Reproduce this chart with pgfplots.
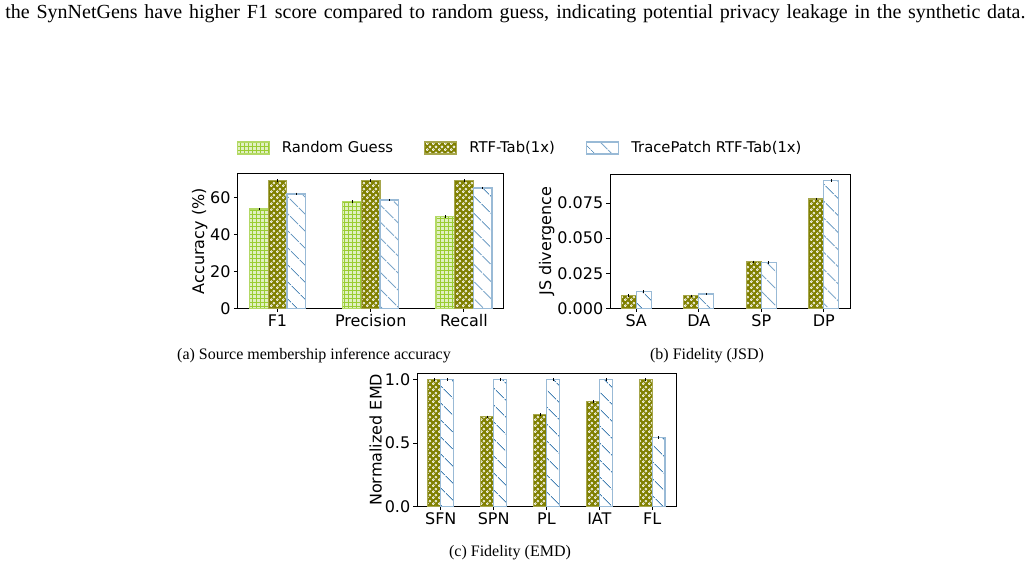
\documentclass[border=0pt]{standalone}
\usepackage{fontspec}
\setmainfont{Liberation Serif}
\newfontfamily\dejavu{DejaVu Sans}
\usepackage{pgfplots}
\pgfplotsset{compat=1.18}
\usetikzlibrary{patterns.meta}

\definecolor{yellowgreen}{HTML}{9ACD32}
\definecolor{olivec}{HTML}{808000}
\definecolor{steelblue}{HTML}{4682B4}

\newcommand\ticksfont{\dejavu\fontsize{8}{9.6}\selectfont}
\newcommand\legendfont{\dejavu\fontsize{7.4}{8.9}\selectfont}
\newcommand\capfont{\fontsize{8}{9.6}\selectfont}

% small white rings on olive, staggered
\tikzdeclarepattern{
  name=Rings,
  type=uncolored,
  bounding box={(0pt,0pt) and (3pt,3pt)},
  tile size={(3pt,3pt)},
  code={
    \pgfsetlinewidth{0.35pt}
    \pgfpathcircle{\pgfqpoint{0.75pt}{0.75pt}}{0.6pt}
    \pgfpathcircle{\pgfqpoint{2.25pt}{2.25pt}}{0.6pt}
    \pgfusepath{stroke}
  }
}

\pgfplotsset{
  barfig/.style={
    scale only axis,
    ybar=0pt,
    ymin=0,
    axis line style={line width=0.5pt},
    tick style={line width=0.5pt, black},
    tick align=outside,
    tick pos=left,
    major tick length=1.8pt,
    tick label style={font=\ticksfont},
    xticklabel style={inner sep=1.2pt},
    yticklabel style={inner sep=1.4pt},
    label style={font=\ticksfont},
    ylabel style={yshift=-3.5pt},
    /pgf/number format/assume math mode=true,
    legend image code/.code={\draw[##1] (0pt,-3pt) rectangle (16pt,3pt);},
    error bars/y dir=plus,
    error bars/y explicit,
    error bars/error mark options={black, line width=0.3pt, mark size=0.6pt},
    error bars/error bar style={black, line width=0.3pt},
  },
  rg/.style={draw=yellowgreen!75, line width=0.6pt, fill=yellowgreen!30,
    postaction={pattern={Hatch[angle=0, distance=2pt, line width=0.35pt]}, pattern color=yellowgreen}},
  rtf/.style={draw=olivec!70, line width=0.6pt, fill=olivec,
    postaction={pattern=Rings, pattern color=white}},
  tp/.style={draw=steelblue!55, line width=0.7pt, fill=white,
    postaction={pattern={Lines[angle=-45, distance=6.4pt, line width=0.5pt]}, pattern color=steelblue}},
}

\begin{document}
\begin{tikzpicture}
\path[use as bounding box] (0,0) rectangle (515pt,285pt);

\node[anchor=base west, inner sep=0pt, font=\fontsize{10}{12}\selectfont] at (2.5pt,276pt)
  {\makebox[510pt][s]{the SynNetGens have higher F1 score compared to random guess, indicating potential privacy leakage in the synthetic data.}};

% (a) membership inference
\begin{axis}[barfig,
  at={(118.7pt,130.9pt)}, anchor=south west,
  width=133.3pt, height=67.1pt,
  bar width=0.2,
  xmin=-0.43, xmax=2.43, ymax=72.7,
  xtick={0,1,2}, xticklabels={F1,Precision,Recall},
  ytick={0,20,40,60},
  ylabel={Accuracy (\%)},
  legend columns=3,
  legend style={draw=none, fill=none, at={(1.064,1.194)}, anchor=center, font=\legendfont,
    /tikz/every odd column/.append style={column sep=4pt},
    /tikz/every even column/.append style={column sep=13.5pt}},
]
\addplot[rg] coordinates {(0,53.7) +- (0,0) (1,57.7) +- (0,0) (2,49.7) +- (0,0)};
\addplot[rtf] coordinates {(0,69.2) +- (0,0) (1,69.2) +- (0,0) (2,69.2) +- (0,0)};
\addplot[tp] coordinates {(0,61.9) +- (0,0) (1,58.6) +- (0,0) (2,65.1) +- (0,0)};
\legend{Random Guess, RTF-Tab(1x), TracePatch RTF-Tab(1x)}
\end{axis}

% (b) JSD
\begin{axis}[barfig,
  at={(305pt,130.9pt)}, anchor=south west,
  width=120pt, height=67.1pt,
  bar width=0.24,
  xmin=-0.42, xmax=3.42, ymax=0.0958,
  xtick={0,1,2,3}, xticklabels={SA,DA,SP,DP},
  ytick={0,0.025,0.05,0.075}, yticklabels={0.000,0.025,0.050,0.075},
  scaled y ticks=false,
  ylabel={JS divergence},
]
\addplot[rtf] coordinates {(0,0.0090) +- (0,0) (1,0.0088) +- (0,0) (2,0.0331) +- (0,0) (3,0.0779) +- (0,0)};
\addplot[tp] coordinates {(0,0.0119) +- (0,0) (1,0.0100) +- (0,0) (2,0.0326) +- (0,0) (3,0.0912) +- (0,0)};
\end{axis}

% (c) EMD
\begin{axis}[barfig,
  at={(208.5pt,31.7pt)}, anchor=south west,
  width=129.5pt, height=66.7pt,
  bar width=0.245,
  xmin=-0.45, xmax=4.45, ymax=1.05,
  xtick={0,1,2,3,4}, xticklabels={SFN,SPN,PL,IAT,FL},
  ytick={0,0.5,1}, yticklabels={0.0,0.5,1.0},
  ylabel={Normalized EMD},
]
\addplot[rtf] coordinates {(0,1.0) +- (0,0) (1,0.707) +- (0,0) (2,0.725) +- (0,0) (3,0.828) +- (0,0) (4,1.0) +- (0,0)};
\addplot[tp] coordinates {(0,1.0) +- (0,0) (1,1.0) +- (0,0) (2,1.0) +- (0,0) (3,1.0) +- (0,0) (4,0.545) +- (0,0)};
\end{axis}

\node[font=\capfont, anchor=base] at (157pt,105.5pt) {(a) Source membership inference accuracy};
\node[font=\capfont, anchor=base] at (353.5pt,105.5pt) {(b) Fidelity (JSD)};
\node[font=\capfont, anchor=base] at (255pt,7pt) {(c) Fidelity (EMD)};
\end{tikzpicture}
\end{document}
